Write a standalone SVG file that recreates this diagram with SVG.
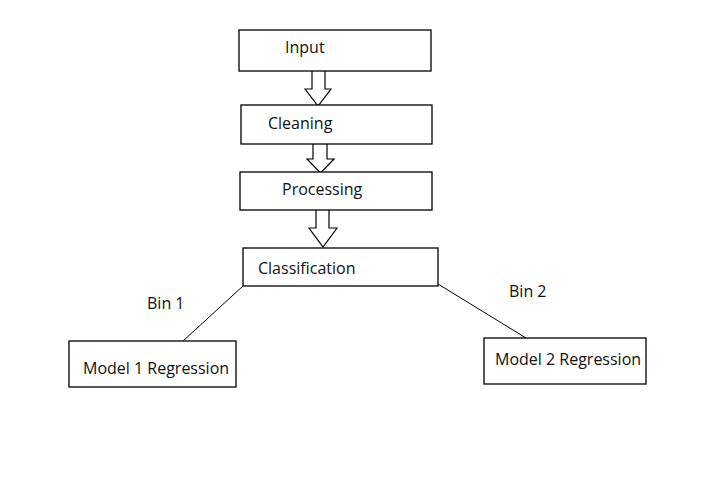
<svg xmlns="http://www.w3.org/2000/svg" width="725" height="478" viewBox="0 0 725 478">
<style>
.box{fill:#fff;stroke:#000;stroke-width:1.3}
.t{font-family:"Open Sans","Liberation Sans",sans-serif;font-size:16px;fill:#111}
.arr{fill:#fff;stroke:#000;stroke-width:1.2;stroke-linejoin:miter}
.ln{stroke:#000;stroke-width:1;fill:none}
</style>
<rect width="725" height="478" fill="#fff"/>
<g id="connectors">
<path class="arr" d="M312,71 V89 H305 L318,106 L331,89 H325 V71"/>
<path class="arr" d="M313,144 V159 H307 L320.5,173 L334,159 H327 V144"/>
<path class="arr" d="M316,210 V228 H309 L323,247 L337,228 H329 V210"/>
<line class="ln" x1="243" y1="286" x2="183" y2="341"/>
<line class="ln" x1="438" y1="284" x2="526" y2="338"/>
<text class="t" x="147" y="309">Bin 1</text>
<text class="t" x="509" y="297">Bin 2</text>
</g>
<g id="input"><rect class="box" x="239" y="30" width="192" height="41"/><text class="t" x="285" y="53">Input</text></g>
<g id="cleaning"><rect class="box" x="241" y="105" width="191" height="39"/><text class="t" x="268" y="129">Cleaning</text></g>
<g id="processing"><rect class="box" x="240" y="172" width="192" height="38"/><text class="t" x="282" y="195">Processing</text></g>
<g id="classification"><rect class="box" x="243" y="248" width="195" height="38"/><text class="t" x="258" y="274">Classification</text></g>
<g id="model1"><rect class="box" x="69" y="341" width="167" height="46"/><text class="t" x="83" y="374">Model 1 Regression</text></g>
<g id="model2"><rect class="box" x="484" y="338" width="162" height="46"/><text class="t" x="495" y="365">Model 2 Regression</text></g>
</svg>
